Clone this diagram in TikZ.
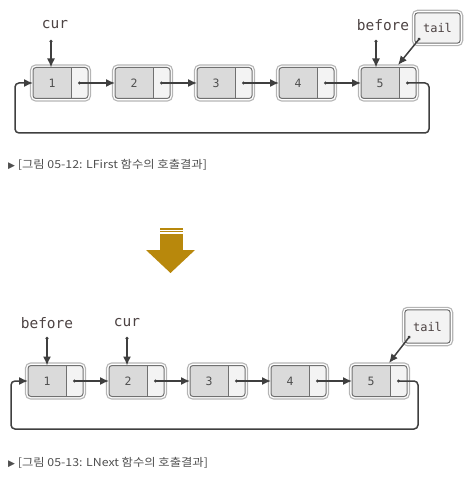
\documentclass[tikz,border=0pt]{standalone}
\usepackage{fontspec}
\setmonofont{DejaVu Sans Mono}
\newfontfamily\krfont[FakeStretch=1.12]{Noto Sans CJK KR}
\newfontfamily\symfont{DejaVu Sans}
\usetikzlibrary{calc,arrows.meta}
\definecolor{linkc}{HTML}{3F3F3F}
\definecolor{datafill}{HTML}{DADADA}
\definecolor{ptrfill}{HTML}{F3F3F3}
\definecolor{bordc}{HTML}{707070}
\definecolor{haloc}{HTML}{B5B5B5}
\definecolor{labc}{HTML}{4D4343}
\definecolor{capc}{HTML}{4F4F4F}
\definecolor{goldc}{HTML}{B8880C}
\tikzset{
  lbox/.style={minimum width=55pt, minimum height=31pt, inner sep=0pt, outer sep=0pt},
  lborder/.style={draw=bordc, line width=1pt, rounded corners=3pt},
  halo/.style={draw=haloc, line width=1.1pt, rounded corners=5pt},
  link/.style={draw=linkc, line width=1.5pt, -{Latex[length=9pt,width=8pt]}},
  ptrlink/.style={draw=linkc, line width=1.5pt, {Circle[length=2.8pt]}-{Latex[length=9pt,width=8pt]}},
  numtxt/.style={font=\ttfamily\fontsize{11.5}{12}\selectfont, text=capc, inner sep=0pt},
  ptrlabel/.style={font=\ttfamily\fontsize{14.5}{15}\selectfont, text=labc, inner sep=0pt},
  taillabel/.style={font=\ttfamily\fontsize{12}{12}\selectfont, text=labc, inner sep=0pt},
  caption/.style={font=\krfont\fontsize{11}{11}\selectfont, text=capc, inner sep=0pt, anchor=west},
  dotc/.style={fill=linkc}
}
\newcommand\lnode[4]{% name, x(left), y(center), label
  \node[lbox, anchor=west] (#1) at (#2,#3) {};
  \draw[halo] ($(#1.south west)+(-2.5,2.5)$) rectangle ($(#1.north east)+(2.5,-2.5)$);
  \begin{scope}
    \clip[rounded corners=3pt] (#1.south west) rectangle (#1.north east);
    \fill[datafill] (#1.south west) rectangle (#1.north east);
    \fill[ptrfill] ($(#1.north west)+(38,0)$) rectangle (#1.south east);
  \end{scope}
  \draw[lborder] (#1.south west) rectangle (#1.north east);
  \draw[draw=bordc, line width=1pt] ($(#1.north west)+(38,0)$) -- ($(#1.south west)+(38,0)$);
  \node[numtxt] (#1n) at ($(#1.west)+(19,0)$) {#4};
  \coordinate (#1p) at ($(#1.west)+(46.5,0)$);
  \fill[dotc] (#1p) circle (1.6pt);
}
\newcommand\tailbox[5]{% name, x1, y1, x2, y2
  \node[inner sep=0pt, minimum width={#4-#2}, minimum height={#5-#3}] (#1) at ({(#2+#4)/2},{(#3+#5)/2}) {};
  \draw[halo] ($(#1.south west)+(-2.5,2.5)$) rectangle ($(#1.north east)+(2.5,-2.5)$);
  \draw[lborder, fill=ptrfill] (#1.south west) rectangle (#1.north east);
  \node[taillabel] at (#1.center) {tail};
}
\begin{document}
\begin{tikzpicture}[x=1pt, y=-1pt]
\useasboundingbox (0,0) rectangle (475,478);
% ---------- top diagram ----------
\lnode{a1}{33}{83}{1}
\lnode{a2}{115}{83}{2}
\lnode{a3}{197}{83}{3}
\lnode{a4}{279}{83}{4}
\lnode{a5}{361}{83}{5}
\draw[link] (a1p) -- (a2.west);
\draw[link] (a2p) -- (a3.west);
\draw[link] (a3p) -- (a4.west);
\draw[link] (a4p) -- (a5.west);
\coordinate (tR) at (429,133);
\coordinate (tL) at (15,133);
\draw[link, rounded corners=4pt] (a5p) -| (tR) -- (tL) |- (a1.west);
\node[ptrlabel] (curA) at (55,25) {cur};
\coordinate (curAs) at (51,40);
\draw[ptrlink] (curAs) -- (curAs |- a1.north);
\node[ptrlabel] (befA) at (383,25) {before};
\coordinate (befAs) at (376,40);
\draw[ptrlink] (befAs) -- (befAs |- a5.north);
\tailbox{tailA}{415}{13}{460}{43}
\coordinate (tailAs) at (420,38);
\coordinate (tailAe) at (398,65);
\draw[ptrlink] (tailAs) -- (tailAe);
\node[caption] (capA) at (8,165) {{\symfont\fontsize{9}{9}\selectfont ▶} [그림 05-12: LFirst 함수의 호출결과]};
% ---------- big arrow ----------
\fill[goldc] (160,228.3) rectangle (182.5,229.6);
\fill[goldc] (160,231.0) rectangle (182.5,232.3);
\fill[goldc] (160,233.8) rectangle (182.5,250.5);
\fill[goldc] (146,250) -- (195,250) -- (170.5,273) -- cycle;
% ---------- bottom diagram ----------
\lnode{b1}{28}{381}{1}
\lnode{b2}{109}{381}{2}
\lnode{b3}{190}{381}{3}
\lnode{b4}{271}{381}{4}
\lnode{b5}{352}{381}{5}
\draw[link] (b1p) -- (b2.west);
\draw[link] (b2p) -- (b3.west);
\draw[link] (b3p) -- (b4.west);
\draw[link] (b4p) -- (b5.west);
\coordinate (bR) at (418,429);
\coordinate (bL) at (11,429);
\draw[link, rounded corners=4pt] (b5p) -| (bR) -- (bL) |- (b1.west);
\node[ptrlabel] (befB) at (47,323) {before};
\coordinate (befBs) at (47,337);
\draw[ptrlink] (befBs) -- (befBs |- b1.north);
\node[ptrlabel] (curB) at (127,323) {cur};
\coordinate (curBs) at (127,337);
\draw[ptrlink] (curBs) -- (curBs |- b2.north);
\tailbox{tailB}{405}{310}{450}{343}
\coordinate (tailBs) at (410,336);
\coordinate (tailBe) at (389,363);
\draw[ptrlink] (tailBs) -- (tailBe);
\node[caption] (capB) at (8,463) {{\symfont\fontsize{9}{9}\selectfont ▶} [그림 05-13: LNext 함수의 호출결과]};
\end{tikzpicture}
\end{document}
